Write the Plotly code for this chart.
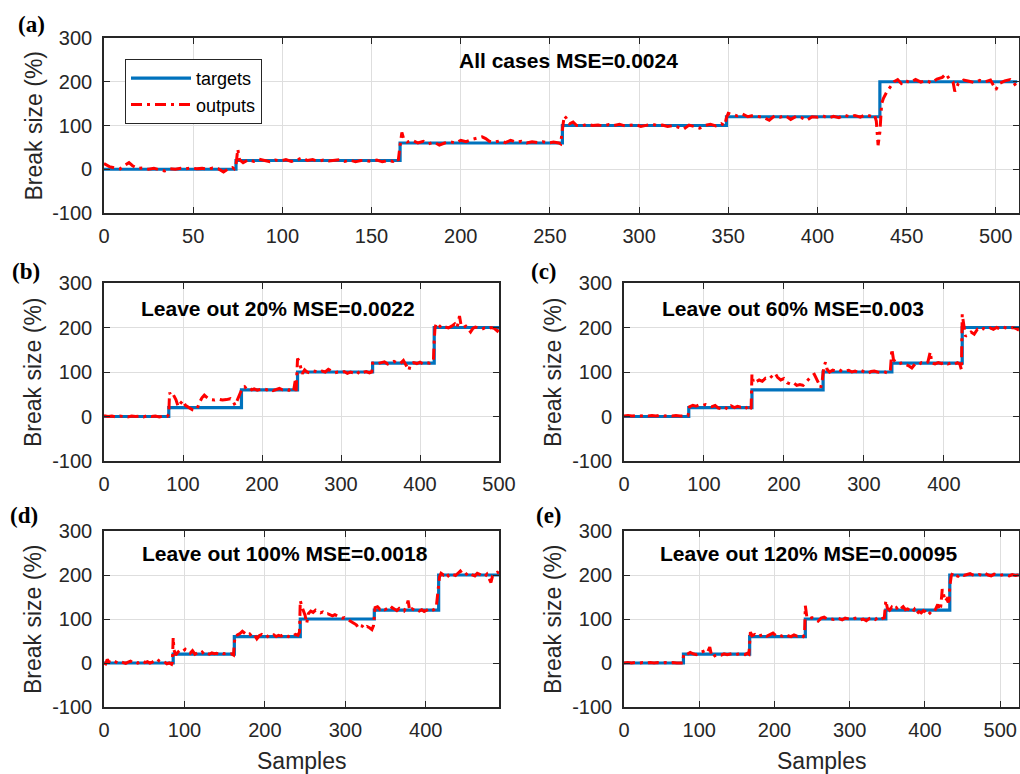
import plotly.graph_objects as go

W, H = 1020, 774

# ---------------- data ----------------
levels = [0, 20, 60, 100, 120, 200]

# step change positions (sample index) and end of each record
steps_a = [0, 74, 166, 257, 349, 435, 512]
steps_b = [0, 82, 174, 245, 340, 418, 500]
steps_c = [0, 81, 160, 249, 335, 423, 494]
steps_d = [0, 86, 162, 244, 336, 416, 491]
steps_e = [0, 79, 167, 241, 348, 433, 525]

out_a_x = [0, 3, 6, 9, 12, 14, 16, 19, 22, 25, 28, 31, 34, 37, 40, 43, 46, 49, 52, 55, 58, 61, 64, 67, 70, 72, 73, 74, 75, 76, 78, 81, 84, 87, 90, 93, 96, 99, 102, 105, 108, 111, 114, 117, 120, 123, 126, 129, 132, 135, 138, 141, 144, 147, 150, 153, 156, 159, 162, 164, 165, 166, 167, 168, 170, 173, 176, 179, 182, 185, 188, 191, 194, 197, 200, 203, 206, 209, 212, 214, 216, 219, 222, 225, 228, 231, 234, 237, 240, 243, 246, 249, 252, 255, 256, 257, 258, 259, 261, 263, 265, 268, 271, 274, 277, 280, 283, 286, 289, 292, 295, 298, 301, 304, 307, 310, 313, 316, 319, 322, 325, 328, 331, 334, 337, 340, 343, 346, 348, 349, 350, 352, 355, 358, 361, 364, 367, 370, 373, 376, 379, 382, 385, 388, 391, 394, 397, 400, 403, 406, 409, 412, 415, 418, 421, 424, 427, 430, 432, 433, 434, 435, 436, 437, 439, 441, 443, 445, 447, 449, 452, 455, 458, 461, 464, 467, 470, 472, 474, 476, 477, 479, 482, 485, 488, 491, 494, 497, 500, 502, 505, 508, 510, 512]
out_a_y = [13, 6, 3, 1, 10, 15, 8, 2, 3, 0, 2, -1, -4, 1, 0, 2, 1, 3, 1, 2, 0, 3, 1, -6, 2, 4, 1, 10, 46, 22, 15, 22, 18, 23, 20, 17, 21, 19, 22, 18, 21, 26, 20, 22, 18, 21, 19, 20, 22, 18, 21, 17, 20, 19, 18, 21, 17, 20, 18, 24, 20, 55, 84, 70, 62, 66, 60, 64, 58, 62, 55, 60, 63, 60, 66, 63, 68, 71, 74, 70, 64, 62, 65, 61, 66, 62, 64, 60, 63, 61, 63, 60, 62, 60, 58, 90, 122, 118, 104, 108, 100, 99, 103, 100, 101, 99, 102, 100, 103, 99, 101, 102, 98, 100, 103, 100, 101, 98, 100, 96, 92, 101, 98, 94, 100, 103, 99, 104, 100, 118, 128, 125, 122, 126, 120, 123, 121, 118, 112, 122, 119, 123, 114, 121, 118, 112, 120, 119, 122, 117, 121, 118, 124, 120, 123, 119, 125, 121, 124, 110, 55, 85, 150, 162, 178, 188, 200, 205, 196, 203, 198, 205, 199, 203, 197, 206, 210, 218, 206, 200, 178, 196, 204, 201, 198, 203, 200, 204, 182, 196, 202, 205, 198, 186]

out_b_x = [0, 5, 10, 15, 20, 25, 30, 35, 40, 45, 50, 55, 60, 65, 70, 75, 80, 82, 83, 85, 88, 91, 94, 97, 100, 103, 106, 109, 112, 115, 118, 121, 124, 127, 129, 132, 135, 140, 145, 150, 155, 160, 163, 166, 169, 171, 173, 175, 178, 181, 184, 187, 190, 194, 198, 202, 206, 210, 214, 218, 222, 226, 230, 234, 237, 240, 242, 243, 245, 247, 249, 251, 254, 257, 260, 264, 268, 272, 276, 280, 284, 288, 292, 296, 300, 304, 308, 312, 316, 320, 324, 328, 332, 336, 339, 340, 343, 347, 351, 355, 359, 363, 367, 371, 375, 379, 383, 386, 388, 392, 396, 400, 404, 408, 412, 415, 417, 418, 419, 421, 424, 428, 432, 436, 440, 444, 447, 450, 452, 455, 458, 461, 464, 467, 470, 474, 478, 482, 486, 490, 494, 498, 500]
out_b_y = [2, 0, 1, -1, 1, 0, -1, 1, 0, 1, -1, 2, 0, 1, -1, 1, 0, 5, 54, 45, 48, 38, 22, 30, 36, 25, 22, 18, 15, 14, 18, 32, 42, 48, 44, 40, 38, 37, 39, 37, 38, 40, 35, 25, 38, 45, 55, 64, 67, 61, 64, 60, 62, 59, 61, 63, 60, 62, 58, 61, 63, 60, 61, 59, 63, 58, 80, 52, 130, 125, 110, 96, 105, 100, 98, 103, 101, 99, 102, 100, 106, 101, 98, 100, 99, 101, 97, 100, 98, 102, 95, 99, 101, 98, 100, 120, 122, 119, 121, 123, 118, 121, 124, 120, 119, 126, 115, 104, 118, 121, 119, 122, 118, 121, 120, 122, 125, 170, 200, 210, 205, 198, 201, 199, 203, 208, 200, 226, 205, 200, 203, 196, 190, 198, 201, 199, 196, 199, 197, 200, 198, 192, 196]

out_c_x = [0, 5, 10, 15, 20, 25, 30, 35, 40, 45, 50, 55, 60, 65, 70, 75, 80, 81, 82, 86, 90, 94, 98, 102, 106, 110, 114, 118, 122, 126, 130, 134, 138, 142, 146, 150, 153, 156, 159, 160, 162, 165, 169, 173, 177, 181, 185, 189, 192, 196, 200, 204, 208, 212, 216, 220, 224, 228, 232, 235, 238, 241, 244, 246, 248, 250, 252, 254, 257, 261, 265, 269, 273, 277, 281, 285, 289, 293, 297, 301, 305, 309, 313, 317, 321, 325, 329, 333, 335, 337, 340, 344, 348, 352, 356, 360, 364, 368, 372, 376, 380, 383, 385, 389, 393, 397, 401, 405, 409, 413, 417, 420, 422, 423, 425, 427, 430, 434, 438, 442, 446, 450, 454, 458, 462, 466, 470, 474, 478, 482, 486, 490, 494]
out_c_y = [1, 2, 1, 2, 1, 2, 1, 2, 1, 3, 1, 2, 1, 2, 1, 2, 2, 10, 22, 25, 23, 26, 25, 27, 24, 22, 25, 19, 17, 21, 16, 24, 20, 23, 21, 24, 20, 12, 20, 95, 75, 78, 82, 79, 86, 84, 90, 97, 88, 82, 85, 76, 73, 76, 70, 72, 70, 79, 87, 92, 95, 84, 70, 65, 82, 112, 122, 106, 100, 104, 102, 105, 101, 103, 104, 100, 102, 99, 103, 100, 97, 101, 102, 100, 99, 101, 98, 100, 152, 128, 122, 118, 121, 117, 114, 109, 118, 116, 121, 119, 122, 145, 120, 118, 121, 119, 122, 118, 120, 117, 121, 118, 105, 230, 205, 180, 186, 190, 185, 196, 193, 198, 195, 199, 196, 200, 197, 201, 199, 197, 200, 198, 194]

out_d_x = [0, 2, 4, 6, 9, 12, 15, 18, 21, 24, 27, 30, 33, 36, 39, 42, 45, 48, 51, 54, 57, 60, 63, 66, 69, 72, 75, 78, 81, 84, 85, 86, 87, 89, 92, 95, 98, 101, 104, 107, 110, 113, 116, 119, 122, 125, 128, 131, 134, 137, 140, 143, 146, 149, 152, 155, 158, 161, 162, 163, 166, 169, 172, 175, 178, 181, 184, 187, 190, 193, 196, 199, 202, 205, 208, 211, 214, 217, 220, 223, 226, 229, 232, 235, 238, 241, 243, 244, 246, 248, 250, 252, 254, 257, 260, 263, 266, 269, 272, 275, 278, 281, 284, 287, 290, 293, 296, 299, 302, 305, 308, 311, 314, 316, 318, 321, 324, 327, 330, 333, 335, 336, 337, 340, 343, 346, 349, 352, 355, 358, 361, 364, 367, 370, 373, 376, 378, 380, 383, 386, 389, 392, 395, 398, 401, 404, 407, 410, 413, 415, 417, 419, 422, 425, 428, 431, 434, 437, 440, 443, 446, 449, 452, 455, 458, 461, 464, 467, 470, 473, 476, 479, 481, 483, 486, 489, 491]
out_d_y = [0, -2, 8, 3, 1, 5, 2, 0, 3, 1, -1, 2, 4, 1, 3, 0, 2, 5, 1, 3, 0, 2, 6, 9, 4, 1, 3, -2, 0, -3, 2, 58, 30, 18, 25, 30, 27, 31, 25, 22, 28, 20, 23, 21, 25, 19, 22, 20, 23, 21, 22, 20, 23, 21, 22, 20, 21, 18, 45, 62, 64, 67, 72, 68, 63, 66, 60, 64, 55, 62, 65, 61, 63, 58, 62, 64, 60, 63, 61, 65, 62, 60, 64, 62, 65, 63, 70, 142, 128, 120, 108, 90, 112, 118, 115, 120, 117, 114, 116, 111, 112, 109, 107, 110, 106, 104, 102, 103, 100, 97, 94, 90, 86, 80, 85, 84, 78, 83, 80, 76, 85, 100, 126, 128, 122, 125, 121, 124, 120, 126, 122, 119, 124, 121, 118, 128, 142, 119, 123, 120, 122, 118, 121, 117, 120, 123, 119, 121, 126, 160, 195, 204, 200, 205, 198, 203, 201, 199, 204, 209, 202, 205, 199, 203, 200, 198, 204, 201, 199, 196, 202, 190, 183, 198, 202, 206, 204]

out_e_x = [0, 5, 10, 15, 20, 25, 30, 35, 40, 45, 50, 55, 60, 65, 70, 75, 78, 79, 80, 84, 88, 92, 96, 100, 104, 108, 111, 114, 116, 118, 121, 125, 129, 133, 137, 141, 145, 149, 153, 157, 161, 164, 166, 167, 168, 170, 174, 178, 182, 186, 190, 194, 198, 202, 206, 210, 214, 218, 222, 226, 230, 234, 238, 240, 241, 243, 246, 250, 254, 258, 262, 266, 270, 274, 278, 282, 286, 290, 294, 298, 302, 306, 310, 314, 318, 322, 326, 330, 334, 338, 342, 346, 348, 350, 353, 356, 359, 362, 365, 368, 371, 374, 377, 380, 383, 386, 389, 392, 395, 398, 401, 404, 407, 410, 413, 415, 417, 419, 421, 423, 425, 427, 429, 431, 432, 433, 435, 437, 440, 444, 448, 452, 456, 460, 464, 468, 472, 476, 480, 484, 488, 492, 496, 500, 504, 508, 512, 516, 520, 525]
out_e_y = [0, 1, 0, 1, 0, 1, 0, 1, 0, 1, 0, 1, 0, 1, 0, 1, 0, 15, 22, 20, 24, 21, 19, 23, 26, 28, 24, 36, 20, 13, 17, 19, 18, 21, 19, 20, 22, 19, 21, 20, 19, 22, 20, 45, 70, 62, 65, 60, 63, 66, 61, 64, 68, 62, 64, 61, 65, 62, 60, 64, 61, 63, 60, 64, 130, 105, 100, 103, 98, 95, 102, 104, 100, 101, 99, 103, 101, 98, 102, 100, 99, 101, 103, 98, 100, 96, 101, 103, 99, 104, 100, 103, 142, 125, 120, 127, 122, 126, 119, 124, 128, 121, 123, 119, 115, 122, 112, 117, 114, 119, 116, 109, 114, 120, 118, 126, 133, 120, 128, 168, 150, 140, 145, 138, 142, 175, 198, 205, 200, 197, 202, 199, 201, 203, 200, 198, 201, 199, 204, 200, 198, 202, 200, 199, 201, 200, 198, 201, 199, 200]

panel_labels = ["(a)", "(b)", "(c)", "(d)", "(e)"]
panel_texts = ["All cases MSE=0.0024", "Leave out 20% MSE=0.0022", "Leave out 60% MSE=0.003",
               "Leave out 100% MSE=0.0018", "Leave out 120% MSE=0.00095"]
x_ranges = [[0, 513], [0, 500], [0, 494], [0, 491], [0, 525]]
x_dticks = [50, 100, 100, 100, 100]
y_ticks = [-100, 0, 100, 200, 300]
y_ticktext = ["-100", "0", "100", "200", "300"]

# ---------------- layout geometry (pixels) ----------------
boxes = [  # (left, right, top, bottom)
    (104, 1019, 38, 213),
    (104, 499, 283, 461),
    (624, 1019, 283, 461),
    (104, 499, 531, 707),
    (624, 1019, 531, 707),
]
label_pos = [(31, 24), (26, 271), (544, 271), (24, 515), (549, 515)]
text_pos = [(568, 61), (278, 308), (793, 308), (285, 553), (808, 553)]
ytitle_x = [33, 33, 553, 33, 553]

FONT = "Liberation Sans, Arial, sans-serif"
DARK = "#262626"
BLUE = "#0072BD"
RED = "#FF0000"

steps_all = [steps_a, steps_b, steps_c, steps_d, steps_e]
outs = [(out_a_x, out_a_y), (out_b_x, out_b_y), (out_c_x, out_c_y), (out_d_x, out_d_y), (out_e_x, out_e_y)]

fig = go.Figure()
annotations = []


def px_x(p):
    return p / W


def px_y(p):
    return 1 - p / H


for i in range(5):
    xa = "x" if i == 0 else f"x{i+1}"
    ya = "y" if i == 0 else f"y{i+1}"
    st = steps_all[i]
    fig.add_trace(go.Scatter(x=st, y=levels + [levels[-1]], mode="lines",
                             line=dict(color=BLUE, width=3.2, shape="hv"),
                             name="targets", showlegend=(i == 0), xaxis=xa, yaxis=ya))
    ox, oy = outs[i]
    fig.add_trace(go.Scatter(x=ox, y=oy, mode="lines",
                             line=dict(color=RED, width=3, dash="11px,5px,3px,5px"),
                             name="outputs", showlegend=(i == 0), xaxis=xa, yaxis=ya))

    l, r, t, b = boxes[i]
    axkey = "xaxis" if i == 0 else f"xaxis{i+1}"
    aykey = "yaxis" if i == 0 else f"yaxis{i+1}"
    common = dict(showline=True, linecolor=DARK, linewidth=1.6, mirror="ticks", ticks="inside",
                  ticklen=6, tickwidth=1.4, tickcolor=DARK, showgrid=True, gridcolor="#dedede",
                  gridwidth=1, zeroline=False, automargin=False,
                  tickfont=dict(family=FONT, size=20, color=DARK))
    fig.layout[axkey] = dict(domain=[px_x(l), px_x(r)], range=x_ranges[i], dtick=x_dticks[i], tick0=0,
                             anchor=ya, ticklabelstandoff=4, **common)
    fig.layout[aykey] = dict(domain=[px_y(b), px_y(t)], range=[-100, 300], tickvals=y_ticks,
                             ticktext=y_ticktext, anchor=xa, ticklabelstandoff=6, **common)

    annotations.append(dict(text="<b>" + panel_labels[i] + "</b>", x=px_x(label_pos[i][0]), y=px_y(label_pos[i][1]),
                            xref="paper", yref="paper", showarrow=False, xanchor="center", yanchor="middle",
                            font=dict(family="Liberation Serif, Times New Roman, serif", size=23, color="black")))
    annotations.append(dict(text="<b>" + panel_texts[i] + "</b>", x=px_x(text_pos[i][0]), y=px_y(text_pos[i][1]),
                            xref="paper", yref="paper", showarrow=False, xanchor="center", yanchor="middle",
                            font=dict(family=FONT, size=21, color="black")))
    annotations.append(dict(text="Break size (%)", x=px_x(ytitle_x[i]), y=px_y((t + b) / 2),
                            xref="paper", yref="paper", showarrow=False, xanchor="center", yanchor="middle",
                            textangle=-90, font=dict(family=FONT, size=23, color=DARK)))

for cx in [301, 821]:
    annotations.append(dict(text="Samples", x=px_x(cx), y=px_y(761), xref="paper", yref="paper",
                            showarrow=False, xanchor="center", yanchor="middle",
                            font=dict(family=FONT, size=23, color=DARK)))

fig.update_layout(
    template="none",
    width=W, height=H, margin=dict(l=0, r=0, t=0, b=0, pad=0), autosize=False,
    paper_bgcolor="white", plot_bgcolor="white",
    annotations=annotations,
    legend=dict(x=px_x(125), y=px_y(59), xanchor="left", yanchor="top", bgcolor="white",
                bordercolor=DARK, borderwidth=1, font=dict(family=FONT, size=18, color="black"),
                itemwidth=60, tracegroupgap=0),
    showlegend=True,
)

fig.write_html("out.html", config={"responsive": False},
               post_script="document.body.style.margin='0';document.documentElement.style.overflow='hidden';")
